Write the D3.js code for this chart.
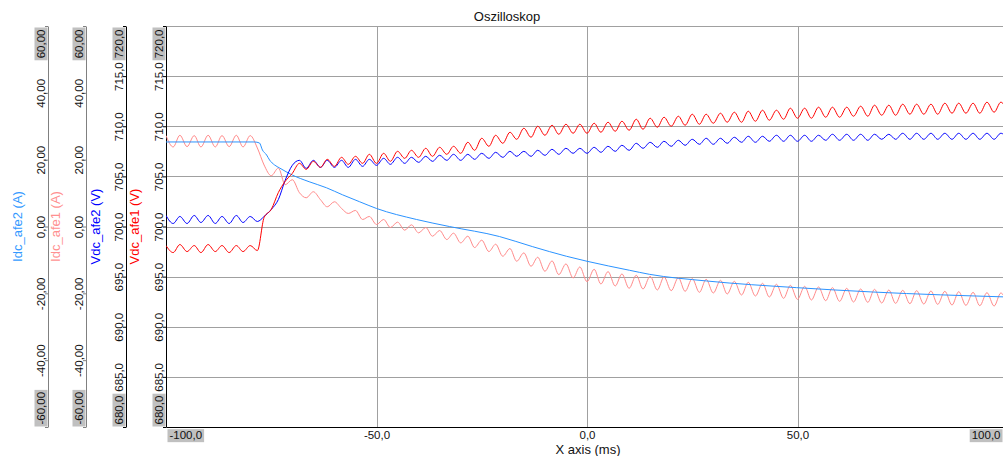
<!DOCTYPE html>
<html>
<head>
<meta charset="utf-8">
<script src="https://cdn.jsdelivr.net/npm/d3@7"></script>
<style>
  body { margin: 0; background: #fff; }
  svg { display: block; font-family: "Liberation Sans", Arial, sans-serif; }
</style>
</head>
<body>
<div id="scope"></div>
<script>
// sample times (ms), one sample every ~1.67 ms
var sampleTimes = [-100,-98.3,-96.7,-95,-93.3,-91.7,-90,-88.3,-86.7,-85,-83.3,-81.7,-80,-78.3,-76.7,-75,-73.3,-71.7,-70,-68.3,
  -66.7,-65,-63.3,-61.7,-60,-58.3,-56.7,-55,-53.3,-51.7,-50,-48.3,-46.7,-45,-43.3,-41.7,-40,-38.3,-36.7,-35,
  -33.3,-31.7,-30,-28.3,-26.7,-25,-23.3,-21.7,-20,-18.3,-16.7,-15,-13.3,-11.7,-10,-8.3,-6.7,-5,-3.3,-1.7,
  0,1.7,3.3,5,6.7,8.3,10,11.7,13.3,15,16.7,18.3,20,21.7,23.3,25,26.7,28.3,30,31.7,
  33.3,35,36.7,38.3,40,41.7,43.3,45,46.7,48.3,50,51.7,53.3,55,56.7,58.3,60,61.7,63.3,65,
  66.7,68.3,70,71.7,73.3,75,76.7,78.3,80,81.7,83.3,85,86.7,88.3,90,91.7,93.3,95,96.7,98.3,100];

// Vdc_afe1 (V)
var vdcAfe1 = [698.1,697.4,698.2,697.5,698.1,697.4,698.2,697.5,698.1,697.4,698.1,697.5,698.1,697.6,
  700.9,701.7,703.4,704.5,705.3,706.3,705.7,706.5,705.9,706.7,706.0,706.9,706.2,707.0,706.3,707.2,
  706.3,707.3,706.5,707.5,706.8,707.6,706.9,707.8,707.0,707.9,707.2,708.0,707.3,708.4,707.6,708.8,708.0,709.1,708.3,709.4,
  708.7,709.8,708.9,710.0,709.1,710.1,709.2,710.2,709.3,710.2,
  709.3,710.3,709.4,710.4,709.5,710.5,709.6,710.7,709.7,710.8,709.9,710.9,710.0,711.0,710.1,711.2,710.2,711.2,710.3,711.3,
  710.4,711.4,710.4,711.5,710.5,711.6,710.6,711.6,710.7,711.8,
  710.8,711.8,710.8,711.9,710.9,711.9,710.9,711.9,711.0,712.0,711.0,712.1,711.1,712.1,711.1,712.2,711.2,712.2,711.2,712.2,
  711.2,712.3,711.3,712.3,711.3,712.3,711.3,712.4,711.4,712.4,711.4];

// Vdc_afe2 (V)
var vdcAfe2 = [701.1,700.3,701.0,700.3,701.1,700.4,701.1,700.3,701.0,700.3,701.1,700.4,701.0,700.5,
  701.0,701.7,702.7,704.6,706.1,706.6,705.8,706.6,705.9,706.6,705.9,706.6,705.9,706.7,706.0,706.7,
  706.1,706.8,706.2,706.9,706.3,706.9,706.4,707.0,706.5,707.1,706.6,707.2,706.6,707.2,706.7,707.3,706.8,707.4,706.9,707.5,
  707.0,707.5,707.0,707.6,707.1,707.7,707.2,707.8,707.3,707.8,
  707.3,707.9,707.4,708.0,707.5,708.1,707.6,708.3,707.8,708.4,707.9,708.5,708.0,708.6,708.1,708.7,708.2,708.8,708.2,708.8,
  708.3,708.9,708.4,709.0,708.4,709.0,708.5,709.1,708.5,709.1,
  708.5,709.1,708.5,709.1,708.6,709.2,708.6,709.2,708.6,709.2,708.6,709.2,708.7,709.2,708.7,709.3,708.7,709.3,708.7,709.3,
  708.7,709.3,708.7,709.3,708.7,709.3,708.7,709.3,708.7,709.3,708.7];

// Idc_afe1 (A)
var idcAfe1 = [27.2,23.8,27.3,23.9,27.2,23.8,27.3,23.8,27.2,23.9,27.3,23.8,27.2,
  23.5,18.4,15.2,17.5,12.5,14.0,10.1,8.6,10.4,8.0,5.9,7.4,5.4,3.9,4.8,2.1,3.0,
  0.6,2.1,-0.3,1.3,-1.1,0.5,-1.9,-0.3,-2.9,-1.2,-3.9,-2.0,-4.9,-2.9,-6.3,-4.1,-7.5,-5.3,-8.9,-6.6,
  -10.4,-7.9,-11.9,-9.2,-13.4,-10.3,-14.4,-11.2,-15.4,-12.1,
  -16.5,-12.8,-17.2,-13.5,-17.8,-14.2,-18.5,-14.6,-18.7,-14.9,-19.0,-15.1,-19.2,-15.3,-19.4,-15.6,-19.7,-15.8,-19.9,-16.1,
  -20.2,-16.4,-20.5,-16.7,-20.8,-17.0,-21.1,-17.3,-21.5,-17.6,
  -21.8,-17.9,-22.0,-18.1,-22.2,-18.3,-22.4,-18.5,-22.6,-18.7,-22.7,-18.8,-22.9,-19.0,-23.0,-19.1,-23.1,-19.2,-23.2,-19.3,
  -23.3,-19.4,-23.5,-19.5,-23.6,-19.7,-23.7,-19.8,-23.8,-19.9,-23.9];

// Idc_afe2 (A), smooth trace
var idcAfe2Times = [-100,-79,-77.8,-77.1,-76.1,-75.4,-74.2,-73,-70,-66,-61.9,-58.1,-54,-50,-40.5,-32.7,-20.8,-13,-4.9,0,10.1,14.8,28.4,49.8,67.8,100];
var idcAfe2 = [25.3,25.3,25.0,22.9,21.4,19.9,18.4,17.5,15.4,13.4,11.6,9.5,7.4,5.4,2.1,0.0,-3.0,-6.0,-8.9,-10.4,-13.1,-14.3,-16.3,-18.3,-19.6,-21.1];

var currentTicks = [-60, -40, -20, 0, 20, 40, 60];
var voltageTicks = [680, 685, 690, 695, 700, 705, 710, 715, 720];
var timeTicks = [-100, -50, 0, 50, 100];

var svgWidth = 1003;
var svgHeight = 456;
var plot = { left: 166, right: 1008, top: 26, bottom: 427 };

var locale = d3.formatLocale({ decimal: ",", thousands: ".", grouping: [3], currency: ["", ""], minus: "-" });
var fmt2 = locale.format(".2f");
var fmt1 = locale.format(".1f");

var svg = d3.select("#scope")
  .append("svg")
  .attr("width", svgWidth)
  .attr("height", svgHeight);

var xScale = d3.scaleLinear().domain([-100, 100]).range([plot.left, plot.right]);
var yVolt = d3.scaleLinear().domain([680, 720]).range([plot.bottom, plot.top]);
var yCurr = d3.scaleLinear().domain([-60, 60]).range([plot.bottom, plot.top]);

// grid
var grid = svg.append("g").attr("stroke", "#a0a0a0").attr("stroke-width", 1);
grid.selectAll(".hgrid")
  .data(voltageTicks.filter(d => d > 680))
  .enter()
  .append("line")
  .attr("x1", plot.left)
  .attr("x2", svgWidth)
  .attr("y1", d => Math.round(yVolt(d)) + 0.5)
  .attr("y2", d => Math.round(yVolt(d)) + 0.5);
grid.selectAll(".vgrid")
  .data(timeTicks.filter(d => d > -100 && d < 100))
  .enter()
  .append("line")
  .attr("x1", d => Math.round(xScale(d)) + 0.5)
  .attr("x2", d => Math.round(xScale(d)) + 0.5)
  .attr("y1", plot.top)
  .attr("y2", plot.bottom);

// label with grey box behind it (end values of each axis)
function boxLabel(text) {
  var bb = text.node().getBBox();
  d3.select(text.node().parentNode)
    .insert("rect", "text")
    .attr("transform", text.attr("transform"))
    .attr("x", bb.x - 2)
    .attr("y", bb.y)
    .attr("width", bb.width + 4)
    .attr("height", bb.height + 1)
    .attr("fill", "#c0c0c0");
}

function leftAxis(xPos, scale, ticks, fmt, color) {
  var g = svg.append("g")
    .attr("transform", `translate(${xPos},0)`)
    .call(d3.axisLeft(scale).tickValues(ticks).tickFormat(fmt).tickSize(3).tickSizeOuter(0));
  g.attr("font-size", 11.5).attr("font-family", null);
  g.select(".domain").attr("stroke", color);
  g.selectAll(".tick line").attr("stroke", color);
  var last = ticks.length - 1;
  g.selectAll(".tick text")
    .attr("x", null)
    .attr("dy", null)
    .attr("fill", "#111")
    .attr("transform", (d, i) => i == last ? "translate(-3.5,3) rotate(-90)" : (i == 0 ? "translate(-3.5,-3) rotate(-90)" : "translate(-3.5,0) rotate(-90)"))
    .attr("text-anchor", (d, i) => i == last ? "end" : (i == 0 ? "start" : "middle"))
    .each(function(d, i) {
      if (i == 0 || i == last) boxLabel(d3.select(this));
    });
}

leftAxis(48, yCurr, currentTicks, fmt2, "#808080");
leftAxis(86, yCurr, currentTicks, fmt2, "#808080");
leftAxis(126, yVolt, voltageTicks, fmt1, "#000");
leftAxis(plot.left, yVolt, voltageTicks, fmt1, "#000");

// x axis
var xAxisG = svg.append("g")
  .attr("transform", `translate(0,${plot.bottom})`)
  .call(d3.axisBottom(xScale).tickValues(timeTicks).tickFormat(fmt1).tickSize(0).tickSizeOuter(0));
xAxisG.attr("font-size", 11.5).attr("font-family", null);
xAxisG.select(".domain").attr("stroke", "#000");
xAxisG.selectAll(".tick text")
  .attr("y", 4)
  .attr("fill", "#111")
  .attr("x", (d, i) => i == 0 ? 3 : (i == timeTicks.length - 1 ? -8 : 0))
  .attr("text-anchor", (d, i) => i == 0 ? "start" : (i == timeTicks.length - 1 ? "end" : "middle"))
  .each(function(d, i) {
    if (i == 0 || i == timeTicks.length - 1) boxLabel(d3.select(this));
  });

svg.append("text")
  .attr("x", 588)
  .attr("y", 454)
  .attr("text-anchor", "middle")
  .attr("font-size", 13)
  .attr("fill", "#111")
  .text("X axis (ms)");

svg.append("text")
  .attr("x", 507)
  .attr("y", 21)
  .attr("text-anchor", "middle")
  .attr("font-size", 13)
  .attr("fill", "#111")
  .text("Oszilloskop");

// axis titles
var titles = [
  { text: "Idc_afe2 (A)", x: 22, color: "#3399ff" },
  { text: "Idc_afe1 (A)", x: 60, color: "#ff9090" },
  { text: "Vdc_afe2 (V)", x: 100, color: "#0000ff" },
  { text: "Vdc_afe1 (V)", x: 139, color: "#ff0000" }
];
svg.selectAll(".axisTitle")
  .data(titles)
  .enter()
  .append("text")
  .attr("class", "axisTitle")
  .attr("transform", d => `translate(${d.x},${(plot.top + plot.bottom) / 2}) rotate(-90)`)
  .attr("text-anchor", "middle")
  .attr("font-size", 13)
  .attr("fill", d => d.color)
  .text(d => d.text);

// traces
svg.append("clipPath").attr("id", "plotClip")
  .append("rect")
  .attr("x", plot.left)
  .attr("y", plot.top)
  .attr("width", svgWidth - plot.left)
  .attr("height", plot.bottom - plot.top);

var traces = svg.append("g").attr("clip-path", "url(#plotClip)");

function trace(times, values, yScale, color) {
  var line = d3.line()
    .x((d, i) => xScale(times[i]))
    .y(d => yScale(d))
    .curve(d3.curveMonotoneX);
  traces.append("path")
    .datum(values)
    .attr("d", line)
    .attr("fill", "none")
    .attr("stroke", color)
    .attr("stroke-width", 1);
}

trace(sampleTimes, idcAfe1, yCurr, "#ff8a8a");
trace(idcAfe2Times, idcAfe2, yCurr, "#2b93ff");
trace(sampleTimes, vdcAfe2, yVolt, "#0000ff");
trace(sampleTimes, vdcAfe1, yVolt, "#ff0000");
</script>
</body>
</html>
